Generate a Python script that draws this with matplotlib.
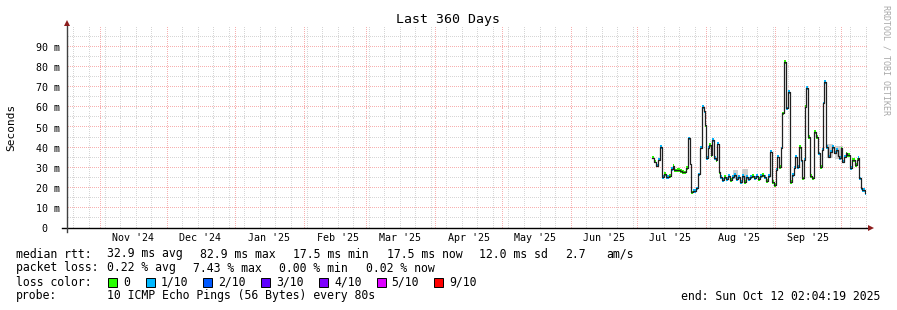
import matplotlib
matplotlib.use('Agg')
import matplotlib.pyplot as plt
import matplotlib.dates as mdates
import matplotlib.transforms as mtransforms
from matplotlib.patches import Rectangle
import numpy as np
import pandas as pd

W, H = 897, 310
MONO = 'DejaVu Sans Mono'

# idő ablak
end_time = pd.Timestamp('2025-10-12 02:04:19')
start_time = end_time - pd.Timedelta(days=360)

# median rtt lépések (ms) és veszteség szint (0 = 0, 1 = 1/10)
sample_times = [
    '2025-07-07 14:00', '2025-07-08 17:00', '2025-07-09 14:00', '2025-07-10 06:00',
    '2025-07-11 04:00', '2025-07-12 02:00', '2025-07-13 05:00', '2025-07-14 02:00',
    '2025-07-15 05:00', '2025-07-16 03:00', '2025-07-17 00:00', '2025-07-17 17:00',
    '2025-07-19 01:00', '2025-07-20 04:00', '2025-07-21 07:00', '2025-07-22 05:00',
    '2025-07-22 21:00', '2025-07-23 18:00', '2025-07-24 16:00', '2025-07-25 03:00',
    '2025-07-26 06:00', '2025-07-27 09:00', '2025-07-28 06:00', '2025-07-29 04:00',
    '2025-07-30 02:00', '2025-07-30 23:00', '2025-07-31 10:00', '2025-08-01 00:00',
    '2025-08-01 18:00', '2025-08-02 11:00', '2025-08-03 03:00', '2025-08-03 19:00',
    '2025-08-04 17:00', '2025-08-05 09:00', '2025-08-06 01:00', '2025-08-06 17:00',
    '2025-08-07 10:00', '2025-08-08 07:00', '2025-08-09 05:00', '2025-08-10 02:00',
    '2025-08-11 00:00', '2025-08-11 22:00', '2025-08-12 19:00', '2025-08-13 17:00',
    '2025-08-14 14:00', '2025-08-15 12:00', '2025-08-16 10:00', '2025-08-17 07:00',
    '2025-08-18 05:00', '2025-08-19 02:00', '2025-08-20 00:00', '2025-08-20 22:00',
    '2025-08-21 19:00', '2025-08-22 17:00', '2025-08-23 14:00', '2025-08-24 12:00',
    '2025-08-25 10:00', '2025-08-26 07:00', '2025-08-27 05:00', '2025-08-28 02:00',
    '2025-08-29 00:00', '2025-08-29 22:00', '2025-08-30 19:00', '2025-08-31 17:00',
    '2025-09-01 09:00', '2025-09-02 04:00', '2025-09-02 23:00', '2025-09-03 15:00',
    '2025-09-04 07:00', '2025-09-04 23:00', '2025-09-06 02:00', '2025-09-07 00:00',
    '2025-09-07 22:00', '2025-09-08 16:00', '2025-09-09 11:00', '2025-09-10 04:00',
    '2025-09-10 20:00', '2025-09-11 17:00', '2025-09-12 15:00', '2025-09-13 07:00',
    '2025-09-13 23:00', '2025-09-14 16:00', '2025-09-15 02:00', '2025-09-15 18:00',
    '2025-09-16 16:00', '2025-09-17 14:00', '2025-09-18 17:00', '2025-09-19 14:00',
    '2025-09-20 06:00', '2025-09-21 04:00', '2025-09-22 02:00', '2025-09-22 12:00',
    '2025-09-22 23:00', '2025-09-24 02:00', '2025-09-25 00:00', '2025-09-25 22:00',
    '2025-09-26 19:00', '2025-09-27 17:00', '2025-09-28 11:00', '2025-09-29 06:00',
    '2025-09-29 23:00', '2025-09-30 15:00', '2025-10-01 07:00', '2025-10-02 05:00',
    '2025-10-02 21:00', '2025-10-03 16:00', '2025-10-04 16:00', '2025-10-05 19:00',
    '2025-10-06 22:00', '2025-10-07 20:00', '2025-10-08 12:00', '2025-10-08 23:00',
    '2025-10-09 15:00', '2025-10-10 12:00', '2025-10-11 10:00',
]
median_ms = [
    35.0, 33.0, 31.0, 34.0, 40.3, 25.5, 27.0, 25.5,
    26.0, 29.3, 31.0, 28.7, 29.0, 28.3, 28.0, 27.7,
    30.0, 44.6, 32.0, 17.7, 18.3, 19.7, 26.7, 40.0,
    60.3, 58.0, 51.0, 34.7, 40.0, 41.3, 36.3, 43.8,
    34.7, 33.8, 42.0, 28.0, 25.5, 24.0, 25.5, 24.5,
    26.0, 24.0, 25.5, 26.5, 24.5, 25.5, 23.0, 26.0,
    23.0, 25.5, 24.5, 25.5, 26.0, 25.0, 26.0, 24.5,
    26.0, 26.4, 25.5, 23.5, 26.0, 38.0, 23.0, 21.4,
    28.8, 35.5, 30.5, 39.6, 57.0, 82.7, 59.5, 67.8,
    23.0, 26.4, 30.0, 35.5, 30.5, 40.4, 33.8, 24.7,
    33.8, 60.3, 69.5, 45.4, 25.9, 24.7, 47.9, 45.4,
    37.1, 30.5, 38.8, 62.0, 72.7, 40.4, 35.5, 38.0,
    40.4, 37.5, 38.8, 36.0, 34.7, 39.6, 33.0, 35.5,
    37.1, 36.3, 29.7, 33.8, 31.3, 33.8, 34.7, 24.7,
    19.7, 18.9, 17.5,
]
loss_idx = [
    0, 0, 1, 1, 1, 1, 0, 1,
    0, 1, 0, 0, 0, 0, 0, 0,
    0, 1, 0, 0, 1, 1, 1, 1,
    1, 1, 0, 1, 1, 0, 0, 1,
    1, 0, 1, 0, 1, 1, 0, 1,
    1, 0, 1, 1, 1, 1, 1, 1,
    0, 1, 1, 1, 0, 1, 1, 0,
    1, 0, 1, 0, 1, 1, 0, 0,
    1, 1, 0, 1, 0, 0, 1, 1,
    0, 1, 1, 1, 1, 0, 1, 0,
    1, 0, 1, 0, 0, 0, 0, 0,
    1, 0, 1, 1, 1, 1, 1, 1,
    1, 1, 1, 1, 1, 0, 1, 1,
    0, 0, 1, 0, 0, 0, 1, 1,
    1, 1, 1,
]

# füst (ping szórás) sávok
smoke_from = ['2025-08-13 00:00', '2025-08-17 00:00', '2025-09-24 12:00', '2025-09-28 00:00']
smoke_to = ['2025-08-15 12:00', '2025-08-20 00:00', '2025-09-27 00:00', '2025-10-01 12:00']
smoke_lo = [24.5, 24.0, 35.0, 34.5]
smoke_hi = [29.0, 29.5, 42.0, 41.0]

loss_labels = ['0', '1/10', '2/10', '3/10', '4/10', '5/10', '9/10']
loss_colors = ['#26ff00', '#00b8ff', '#0059ff', '#5e00ff', '#7e00ff', '#dd00ff', '#ff0000']

rtt_stats = ['32.9 ms avg', '82.9 ms max', '17.5 ms min', '17.5 ms now', '12.0 ms sd', '2.7', 'am/s']
loss_stats = ['0.22 % avg', '7.43 % max', '0.00 % min', '0.02 % now']
probe_text = '10 ICMP Echo Pings (56 Bytes) every 80s'
end_text = 'end: Sun Oct 12 02:04:19 2025'

y_ticks = list(range(0, 100, 10))
y_labels = ['0  '] + ['%d m' % v for v in y_ticks[1:]]


def px(x, y):
    return x / W, 1 - y / H


t = mdates.date2num(pd.to_datetime(sample_times))
t0 = mdates.date2num(start_time)
t1 = mdates.date2num(end_time)
widths = np.diff(np.append(t, t1))
med = np.array(median_ms)

AW, AH = 799, 201
fig = plt.figure(figsize=(W / 100, H / 100), dpi=100, facecolor='white')
ax = fig.add_axes([67 / W, (H - 228) / H, AW / W, AH / H])
ax.set_xlim(t0, t1)
ax.set_ylim(0, 100)
for s in ax.spines.values():
    s.set_visible(False)

# rács: pontozott vonalak pixelenként (1 be, 1 ki)
minor_c = '#d6d6d6'
major_c = '#f7b0b0'
xdots = np.arange(0.5, AW, 2) / AW
ydots = np.arange(0.5, AH, 2) / AH
vtrans = mtransforms.blended_transform_factory(ax.transData, ax.transAxes)
htrans = mtransforms.blended_transform_factory(ax.transAxes, ax.transData)


def hgrid(v, c, z):
    ax.plot(xdots, np.full_like(xdots, v), ls='none', marker=',', color=c,
            transform=htrans, zorder=z)


def vgrid(d, c, z):
    ax.plot(np.full_like(ydots, d), ydots, ls='none', marker=',', color=c,
            transform=vtrans, zorder=z)


for v in range(5, 100, 10):
    hgrid(v, minor_c, 0)
weeks = pd.date_range(start_time.normalize(), end_time, freq='W-SUN')
for d in weeks:
    vgrid(mdates.date2num(d), minor_c, 0)
for v in range(10, 100, 10):
    hgrid(v, major_c, 1)
months = pd.date_range(start_time.normalize(), end_time, freq='MS')
for d in months:
    vgrid(mdates.date2num(d), major_c, 1)

# füst
for a, b, lo, hi in zip(smoke_from, smoke_to, smoke_lo, smoke_hi):
    a = mdates.date2num(pd.Timestamp(a))
    b = mdates.date2num(pd.Timestamp(b))
    ax.fill_between([a, b], [lo, lo], [hi, hi], color='#cfcfcf', lw=0, zorder=2)

# veszteség színek (kis sávok a medián körül)
cols = [loss_colors[i] for i in loss_idx]
ax.bar(t, 1.8, width=widths, bottom=med - 0.9, align='edge', color=cols, lw=0, zorder=3)

# medián vonal
ax.step(np.append(t, t1), np.append(med, med[-1]), where='post', color='#202020', lw=0.9, zorder=4)

# tengelyek
ax.set_yticks(y_ticks)
ax.set_yticklabels(y_labels, family=MONO, fontsize=7.2)
ax.xaxis.set_major_locator(mdates.MonthLocator(bymonthday=16))
ax.xaxis.set_major_formatter(mdates.DateFormatter("%b '%y"))
ax.tick_params(axis='both', length=0)
ax.tick_params(axis='y', pad=5)
ax.tick_params(axis='x', pad=3.5)
for lab in ax.get_xticklabels():
    lab.set_family(MONO)
    lab.set_fontsize(7.2)

ax.plot([-5 / AW, 1.0035], [0, 0], color='black', lw=1.0, transform=ax.transAxes, clip_on=False, zorder=5)
ax.plot([0, 0], [-4 / AH, 1.01], color='#404040', lw=1.0, transform=ax.transAxes, clip_on=False, zorder=5)
ax.plot([1.006], [0], marker='>', ms=4.5, color='#8c1c1c', mew=0, transform=ax.transAxes, clip_on=False, zorder=6)
ax.plot([0], [1.022], marker='^', ms=4.5, color='#8c1c1c', mew=0, transform=ax.transAxes, clip_on=False, zorder=6)

# szövegek
fig.text(*px(448, 19), 'Last 360 Days', family=MONO, fontsize=9.5, ha='center', va='center')
fig.text(*px(11, 127), 'Seconds', family=MONO, fontsize=8, rotation=90, ha='center', va='center')
fig.text(*px(886, 5), 'RRDTOOL / TOBI OETIKER', family=MONO, fontsize=6, color='#a8a8a8',
         rotation=270, ha='center', va='top')

fs = 8.3
fig.text(*px(16, 254), 'median rtt:', family=MONO, fontsize=fs, va='center')
for s, x in zip(rtt_stats, [107, 200, 293, 386.5, 479, 565, 606.5]):
    fig.text(*px(x, 254), s, family=MONO, fontsize=fs, va='center')

fig.text(*px(16, 268), 'packet loss:', family=MONO, fontsize=fs, va='center')
for s, x in zip(loss_stats, [107, 193, 279, 365.5]):
    fig.text(*px(x, 268), s, family=MONO, fontsize=fs, va='center')

fig.text(*px(16, 282), 'loss color:', family=MONO, fontsize=fs, va='center')
for lab, c, x in zip(loss_labels, loss_colors, [108, 145.5, 203, 261, 319, 376.5, 434]):
    fig.patches.append(Rectangle(px(x, 286.5), 9 / W, 9 / H, transform=fig.transFigure,
                                 facecolor=c, edgecolor='black', lw=0.7))
    fig.text(*px(x + 15, 282), lab, family=MONO, fontsize=fs, va='center')

fig.text(*px(16, 296), 'probe:', family=MONO, fontsize=fs, va='center')
fig.text(*px(107, 296), probe_text, family=MONO, fontsize=fs, va='center')
fig.text(*px(880, 296), end_text, family=MONO, fontsize=fs, va='center', ha='right')

fig.savefig('out.png', dpi=100, facecolor='white')
